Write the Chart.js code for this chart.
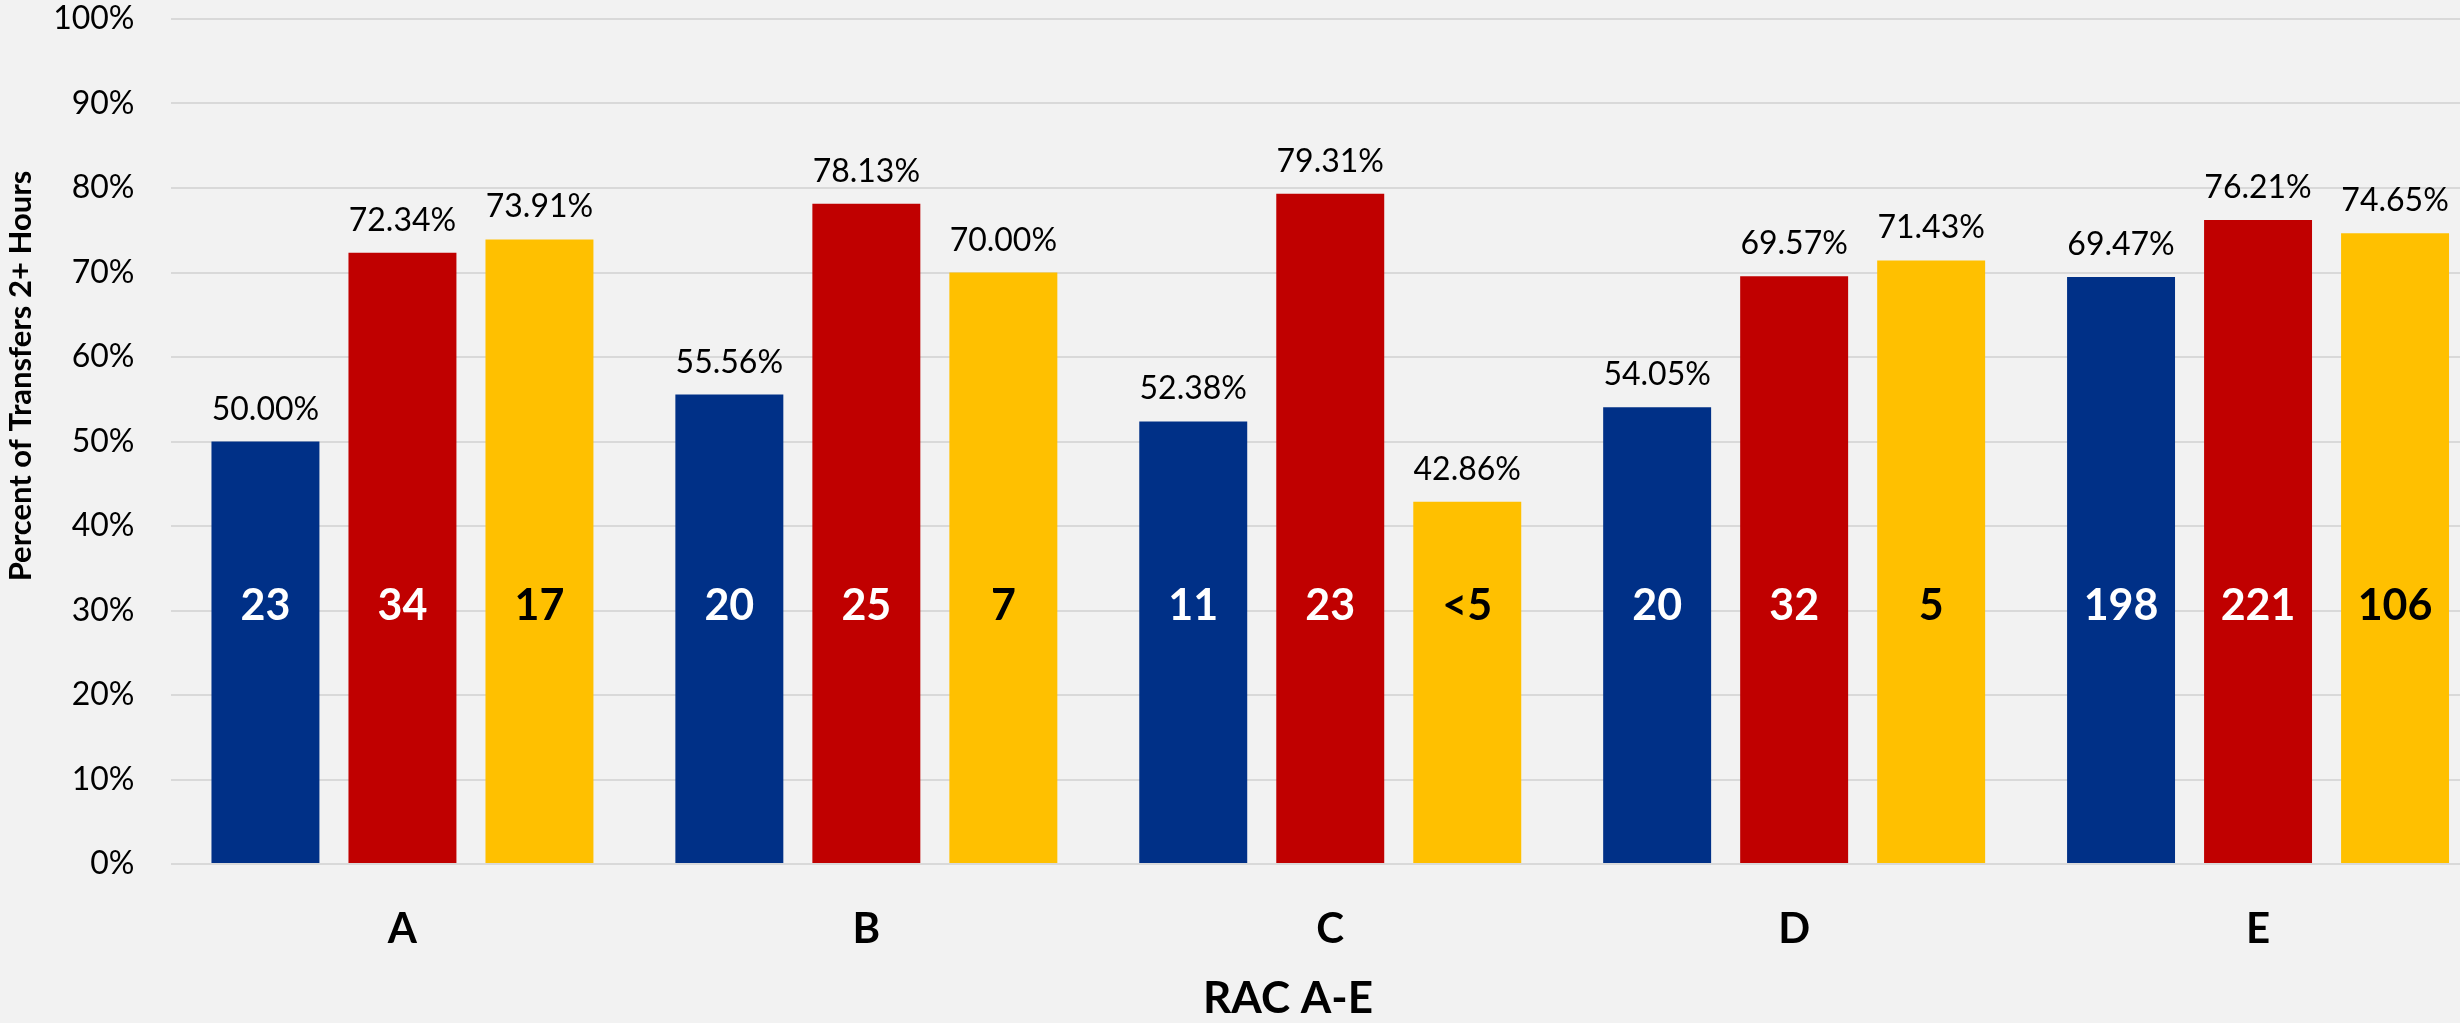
<!DOCTYPE html>
<html>
<head>
<meta charset="utf-8">
<script src="https://cdn.jsdelivr.net/npm/chart.js@4"></script>
<style>
  html, body { margin: 0; padding: 0; background: #F2F2F2; overflow: hidden; }
  #wrap { width: 2495px; height: 1023px; position: relative; }
</style>
</head>
<body>
<div id="wrap"><canvas id="c"></canvas></div>
<script>
const categories = ['A', 'B', 'C', 'D', 'E'];
const seriesNames = ['Series 1', 'Series 2', 'Series 3'];
const series1 = [50.00, 55.56, 52.38, 54.05, 69.47];
const series2 = [72.34, 78.13, 79.31, 69.57, 76.21];
const series3 = [73.91, 70.00, 42.86, 71.43, 74.65];
const counts1 = ['23', '20', '11', '20', '198'];
const counts2 = ['34', '25', '23', '32', '221'];
const counts3 = ['17', '7', '<5', '5', '106'];
const yTicks = [0, 10, 20, 30, 40, 50, 60, 70, 80, 90, 100];
const xTitle = 'RAC A-E';
const yTitle = 'Percent of Transfers 2+ Hours';
const countLevel = 30.5;

const colors = ['#003087', '#C00000', '#FFC000'];
const countColors = ['#FFFFFF', '#FFFFFF', '#000000'];
const allCounts = [counts1, counts2, counts3];

const labelPlugin = {
  id: 'labels',
  afterDatasetsDraw(chart) {
    const ctx = chart.ctx;
    const yScale = chart.scales.y;
    ctx.save();
    chart.data.datasets.forEach((ds, di) => {
      const meta = chart.getDatasetMeta(di);
      meta.data.forEach((bar, i) => {
        ctx.fillStyle = '#000000';
        ctx.font = '32px Lato';
        ctx.textAlign = 'center';
        ctx.textBaseline = 'alphabetic';
        ctx.fillText(ds.data[i].toFixed(2) + '%', bar.x, bar.y - 22);
        ctx.fillStyle = countColors[di];
        ctx.font = 'bold 43px Lato';
        ctx.textBaseline = 'middle';
        ctx.fillText(allCounts[di][i], bar.x, yScale.getPixelForValue(countLevel));
      });
    });
    // axis titles
    ctx.fillStyle = '#000000';
    ctx.font = 'bold 44px Lato';
    ctx.textAlign = 'center';
    ctx.textBaseline = 'middle';
    ctx.fillText(xTitle, 1288, 999);
    ctx.translate(21, 376);
    ctx.rotate(-Math.PI / 2);
    ctx.font = 'bold 31px Lato';
    ctx.fillText(yTitle, 0, 0);
    ctx.restore();
  }
};

new Chart(document.getElementById('c'), {
  type: 'bar',
  data: {
    labels: categories,
    datasets: [series1, series2, series3].map((d, k) => ({
      label: seriesNames[k],
      data: d,
      backgroundColor: colors[k],
      borderWidth: 0,
      categoryPercentage: 0.886,
      barPercentage: 0.788
    }))
  },
  options: {
    responsive: true,
    maintainAspectRatio: false,
    animation: false,
    layout: { padding: { top: 19, right: 5, left: 0, bottom: 0 } },
    plugins: { legend: { display: false }, tooltip: { enabled: false } },
    scales: {
      x: {
        grid: { display: false, drawTicks: false },
        border: { display: false },
        ticks: { color: '#000', font: { family: 'Lato', size: 42, weight: 'bold' }, padding: 40 },
        afterFit(s) { s.height = 159; }
      },
      y: {
        min: 0, max: 100,
        afterBuildTicks(s) { s.ticks = yTicks.map(v => ({ value: v })); },
        grid: { color: '#D9D9D9', lineWidth: 2, drawTicks: false },
        border: { display: false },
        ticks: { color: '#000', font: { family: 'Lato', size: 32 }, padding: 36, callback: v => v + '%' },
        afterFit(s) { s.width = 170.5; s.paddingTop = 0; s.paddingBottom = 0; }
      }
    }
  },
  plugins: [labelPlugin]
});
</script>
</body>
</html>
